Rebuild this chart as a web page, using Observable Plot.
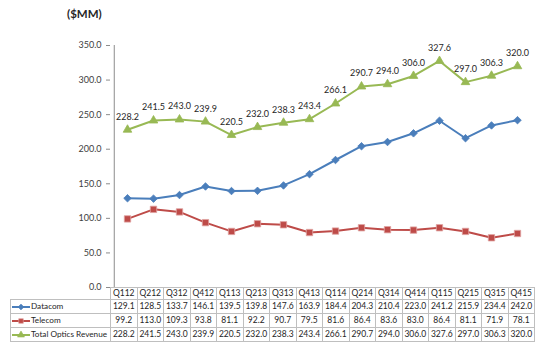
<!DOCTYPE html>
<html><head><meta charset="utf-8">
<script src="https://cdn.jsdelivr.net/npm/d3@7"></script>
<script src="https://cdn.jsdelivr.net/npm/@observablehq/plot@0.6"></script>
<style>
body{margin:0;background:#fff;}
#wrap{position:relative;width:542px;height:352px;font-family:Lato,"Liberation Sans",sans-serif;color:#262626;overflow:hidden;background:#fff}
#title{position:absolute;left:67px;top:7px;font-size:11.5px;font-weight:bold;color:#262626}
#chart{position:absolute;left:0;top:0}
#tbl{position:absolute;left:10px;top:287px;border-collapse:collapse;table-layout:fixed;font-size:8.5px;color:#262626}
#tbl td{border:1px solid #bfbfbf;padding:0;text-align:center;white-space:nowrap;overflow:hidden;height:13px;line-height:13px}
#tbl tr.hdr td{height:11px;line-height:11px}
#tbl td.blank{border:none}
#tbl td.leg{text-align:left;font-size:8.2px}
#tbl td.leg svg{vertical-align:middle}
</style></head><body>
<div id="wrap"><div id="title">($MM)</div><div id="chart"></div><table id="tbl"></table></div>
<script>
const quarters = ["Q112","Q212","Q312","Q412","Q113","Q213","Q313","Q413","Q114","Q214","Q314","Q414","Q115","Q215","Q315","Q415"];
const datacom = [129.1,128.5,133.7,146.1,139.5,139.8,147.6,163.9,184.4,204.3,210.4,223.0,241.2,215.9,234.4,242.0];
const telecom = [99.2,113.0,109.3,93.8,81.1,92.2,90.7,79.5,81.6,86.4,83.6,83.0,86.4,81.1,71.9,78.1];
const total = [228.2,241.5,243.0,239.9,220.5,232.0,238.3,243.4,266.1,290.7,294.0,306.0,327.6,297.0,306.3,320.0];
const yTicks = [0,50,100,150,200,250,300,350];
const seriesNames = ["Datacom","Telecom","Total Optics Revenue"];

const styles = {
  "Datacom": {color:"#4a7ebb", symbol:"diamond2", r:3.4, stroke:"#4a7ebb"},
  "Telecom": {color:"#be4b48", symbol:"square", r:3.6, stroke:"#e0a3a1"},
  "Total Optics Revenue": {color:"#98b954", symbol:"triangle", r:3.2, stroke:"#98b954"}
};
const seriesValues = {"Datacom": datacom, "Telecom": telecom, "Total Optics Revenue": total};

const W = 542, H = 299, mL = 110, mR = 8, mT = 45, mB = 12;
const step = (W - mL - mR) / quarters.length;

const marks = [
  Plot.axisY({ticks: yTicks, tickFormat: d => d.toFixed(1), tickSize: 4, tickPadding: 5, stroke: "#8c8c8c", fill: "#404040", fontSize: 9, label: null}),
  Plot.ruleX([quarters[0]], {dx: -step/2, y1: 0, y2: 350, stroke: "#8c8c8c"})
];
for (const s of seriesNames) {
  const rows = quarters.map((q, i) => ({q, v: seriesValues[s][i]}));
  const st = styles[s];
  marks.push(Plot.line(rows, {x: "q", y: "v", stroke: st.color, strokeWidth: 2}));
  marks.push(Plot.dot(rows, {x: "q", y: "v", symbol: st.symbol, r: st.r, fill: st.color, stroke: st.stroke, strokeWidth: 0.8}));
}
const totalRows = quarters.map((q, i) => ({q, v: total[i]}));
marks.push(Plot.text(totalRows, {x: "q", y: "v", text: d => d.v.toFixed(1), dy: -13, fontSize: 9, fill: "#262626"}));

const chart = Plot.plot({
  width: W, height: H,
  marginLeft: mL, marginRight: mR, marginTop: mT, marginBottom: mB,
  style: {fontFamily: "Lato, 'Liberation Sans', sans-serif", background: "transparent", overflow: "visible"},
  x: {type: "point", domain: quarters, padding: 0.5, axis: null},
  y: {domain: [0, 350], axis: null},
  marks
});
document.getElementById("chart").appendChild(chart);

// data table below the chart, columns aligned with the x scale
const tbl = d3.select("#tbl").style("width", (100 + step * quarters.length) + "px");
const cg = tbl.append("colgroup");
cg.append("col").style("width", "100px");
quarters.forEach(() => cg.append("col").style("width", step + "px"));
const hdr = tbl.append("tr").attr("class", "hdr");
hdr.append("td").attr("class", "blank");
quarters.forEach(q => hdr.append("td").text(q));
for (const s of seriesNames) {
  const st = styles[s];
  const tr = tbl.append("tr");
  const leg = tr.append("td").attr("class", "leg");
  const svg = leg.append("svg").attr("width", 20).attr("height", 10);
  svg.append("line").attr("x1", 1).attr("x2", 19).attr("y1", 5).attr("y2", 5).attr("stroke", st.color).attr("stroke-width", 2);
  const sym = {diamond2: d3.symbolDiamond2, square: d3.symbolSquare, triangle: d3.symbolTriangle}[st.symbol];
  svg.append("path").attr("transform", "translate(10,5)").attr("d", d3.symbol(sym, Math.PI * 2.6 * 2.6)()).attr("fill", st.color).attr("stroke", st.stroke).attr("stroke-width", 0.6);
  leg.append("span").text(s);
  seriesValues[s].forEach(v => tr.append("td").text(v.toFixed(1)));
}
</script>
</body></html>
